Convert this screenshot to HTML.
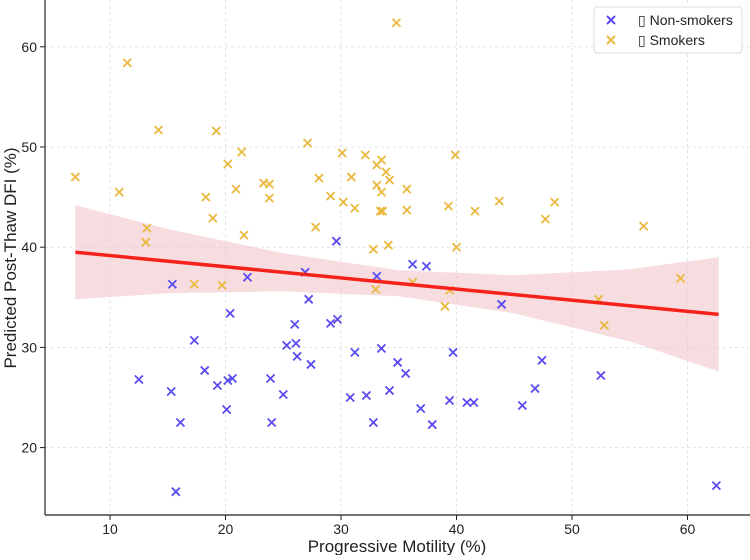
<!DOCTYPE html>
<html><head><meta charset="utf-8"><style>
html,body{margin:0;padding:0;background:#fff;}
svg text{font-family:"Liberation Sans","DejaVu Sans",sans-serif;fill:#222;}
</style></head><body>
<svg id="chart" width="750" height="555" viewBox="0 0 750 555" xmlns="http://www.w3.org/2000/svg">
<g id="grid"></g>
<g id="band"></g>
<g id="marks"></g>
<g id="axes"></g>
<text x="397" y="552" text-anchor="middle" font-size="17">Progressive Motility (%)</text>
<text transform="translate(16,258) rotate(-90)" text-anchor="middle" font-size="17">Predicted Post-Thaw DFI (%)</text>
<g>
<rect x="594" y="7" width="148" height="46" rx="3" fill="#fff" stroke="#ddd"/>
<g>
<path d="M607,16 l8,8 M615,16 l-8,8" stroke="#5a4cf2" stroke-width="2"/>
<text x="638" y="25" font-size="14">▯ Non-smokers</text></g>
<g>
<path d="M607,36 l8,8 M615,36 l-8,8" stroke="#eab93f" stroke-width="2"/>
<text x="638" y="45" font-size="14">▯ Smokers</text></g>
</g>
</svg>
<script>
const xTicks=[10,20,30,40,50,60];
const yTicks=[20,30,40,50,60];
const nsX=[15.4,17.3,12.5,15.3,16.1,18.2,19.3,20.4,21.9,20.2,20.6,20.1,15.7,23.9,24.0,25.0,25.3,26.0,26.1,26.2,26.9,27.2,27.4,29.1,29.7,29.6,30.8,31.2,32.2,32.8,33.1,33.5,34.2,34.9,35.6,36.2,36.9,37.4,37.9,39.4,39.7,40.9,41.5,43.9,45.7,46.8,47.4,52.5,62.5];
const nsY=[36.3,30.7,26.8,25.6,22.5,27.7,26.2,33.4,37.0,26.7,26.9,23.8,15.6,26.9,22.5,25.3,30.2,32.3,30.4,29.1,37.5,34.8,28.3,32.4,32.8,40.6,25.0,29.5,25.2,22.5,37.1,29.9,25.7,28.5,27.4,38.3,23.9,38.1,22.3,24.7,29.5,24.5,24.5,34.3,24.2,25.9,28.7,27.2,16.2];
const smX=[7.0,10.8,11.5,13.2,13.1,14.2,17.3,18.3,18.9,19.2,19.7,20.2,20.9,21.4,21.6,23.3,23.8,23.8,27.1,27.8,28.1,29.1,30.1,30.2,30.9,31.2,32.1,32.8,33.0,33.1,33.1,33.5,33.5,33.4,33.6,33.9,34.2,34.1,34.8,35.7,35.7,36.2,39.0,39.3,39.4,39.9,40.0,41.6,43.7,47.7,48.5,52.3,52.8,56.2,59.4];
const smY=[47.0,45.5,58.4,41.9,40.5,51.7,36.3,45.0,42.9,51.6,36.2,48.3,45.8,49.5,41.2,46.4,46.3,44.9,50.4,42.0,46.9,45.1,49.4,44.5,47.0,43.9,49.2,39.8,35.8,48.2,46.2,45.5,48.7,43.6,43.6,47.5,46.7,40.2,62.4,45.8,43.7,36.5,34.1,44.1,35.7,49.2,40.0,43.6,44.6,42.8,44.5,34.8,32.2,42.1,36.9];
const regX=[7,62.7];
const regY=[39.5,33.3];
const bandX=[7,15,25,35,45,55,62.7];
const bandUpper=[44.2,41.8,39.4,37.7,37.2,37.8,39.0];
const bandLower=[34.8,35.4,35.6,35.1,33.4,30.6,27.6];

const NS="http://www.w3.org/2000/svg";
const X0=45,X1=750,Y0=0,Y1=515;
function sx(v){return -5.5+11.55*v;}
function sy(v){return 648-10.02*v;}
function mk(tag,attrs,parent){const e=document.createElementNS(NS,tag);for(const k in attrs)e.setAttribute(k,attrs[k]);parent.appendChild(e);return e;}
const grid=document.getElementById('grid'),axes=document.getElementById('axes'),marks=document.getElementById('marks'),band=document.getElementById('band');
xTicks.forEach(t=>{
  const l=mk('line',{x1:sx(t),x2:sx(t),y1:Y0,y2:Y1,stroke:'#ddd','stroke-dasharray':'3,3','stroke-width':0.8},grid);
  
  
  mk('line',{x1:sx(t),x2:sx(t),y1:Y1,y2:Y1+5,stroke:'#222'},axes);
  const tx=mk('text',{x:sx(t),y:Y1+19,'text-anchor':'middle','font-size':14},axes);tx.textContent=t;
  
  
});
yTicks.forEach(t=>{
  const l=mk('line',{x1:X0,x2:X1,y1:sy(t),y2:sy(t),stroke:'#ddd','stroke-dasharray':'3,3','stroke-width':0.8},grid);
  
  
  mk('line',{x1:X0-5,x2:X0,y1:sy(t),y2:sy(t),stroke:'#222'},axes);
  const tx=mk('text',{x:X0-8,y:sy(t)+5,'text-anchor':'end','font-size':14},axes);tx.textContent=t;
  
  
});
mk('line',{x1:X0,x2:X0,y1:Y0,y2:Y1,stroke:'#222','stroke-width':1.2},axes);
mk('line',{x1:X0,x2:X1,y1:Y1,y2:Y1,stroke:'#222','stroke-width':1.2},axes);
let d='';
bandX.forEach((x,i)=>{d+=(i?'L':'M')+sx(x)+','+sy(bandUpper[i]);});
for(let i=bandX.length-1;i>=0;i--)d+='L'+sx(bandX[i])+','+sy(bandLower[i]);
const bp=mk('path',{d:d+'Z',fill:'#f3c6cb','fill-opacity':0.6},band);


function cross(x,y,c,name){
  const p=mk('path',{d:`M${sx(x)-4},${sy(y)-4}l8,8M${sx(x)+4},${sy(y)-4}l-8,8`,stroke:c,'stroke-width':1.8},marks);
  
  
}
smX.forEach((x,i)=>cross(x,smY[i],'#eab93f','smoker-point'));
nsX.forEach((x,i)=>cross(x,nsY[i],'#5a4cf2','non-smoker-point'));
const rl=mk('line',{x1:sx(regX[0]),y1:sy(regY[0]),x2:sx(regX[1]),y2:sy(regY[1]),stroke:'#f5221b','stroke-width':3.5},marks);


</script>
</body></html>
